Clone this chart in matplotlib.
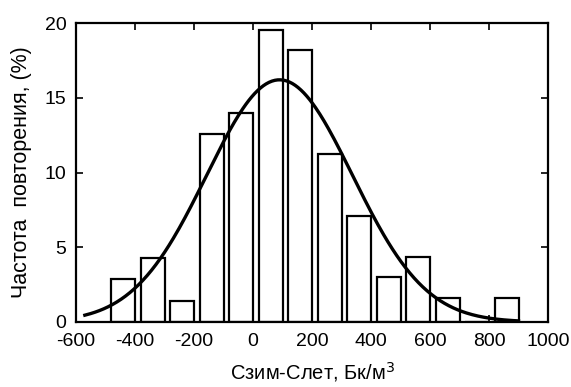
import numpy as np
import matplotlib.pyplot as plt

plt.rcParams['font.family'] = ['Liberation Sans', 'DejaVu Sans']
plt.rcParams['axes.unicode_minus'] = False

# bin centres (Bq/m3) and frequency (%)
bin_centers = [-440, -340, -240, -140, -40, 60, 160, 260, 360, 460, 560, 660, 760, 860]
freq = [2.85, 4.25, 1.43, 12.55, 13.95, 19.55, 18.2, 11.25, 7.1, 3.0, 4.35, 1.58, 0.0, 1.6]

# fitted normal curve parameters
fit_mean = 90
fit_sigma = 247
fit_peak = 16.2
fit_range = (-570, 900)

x_fit = np.linspace(fit_range[0], fit_range[1], 300)
y_fit = fit_peak * np.exp(-(x_fit - fit_mean) ** 2 / (2 * fit_sigma ** 2))

fig = plt.figure(figsize=(5.71, 3.87), dpi=100)
ax = fig.add_axes([76 / 571, 1 - 322 / 387, 472 / 571, 299 / 387])

ax.bar(bin_centers, freq, width=80, color='white', edgecolor='black', linewidth=1.6)
ax.plot(x_fit, y_fit, color='black', linewidth=2.4)

ax.set_xlim(-600, 1000)
ax.set_ylim(0, 20)
ax.set_xticks(np.arange(-600, 1001, 200))
ax.set_yticks([0, 5, 10, 15, 20])
ax.tick_params(direction='in', top=True, right=True, length=5, width=1.2, labelsize=14)
ax.tick_params(axis='x', pad=8)
ax.tick_params(axis='y', pad=7)
for s in ax.spines.values():
    s.set_linewidth(1.6)

ax.set_xlabel('Сзим-Слет, Бк/м$^3$', fontsize=14.5, labelpad=7)
ax.set_ylabel('Частота  повторения, (%)', fontsize=15.5, labelpad=9)

fig.savefig('out.png', dpi=100)
